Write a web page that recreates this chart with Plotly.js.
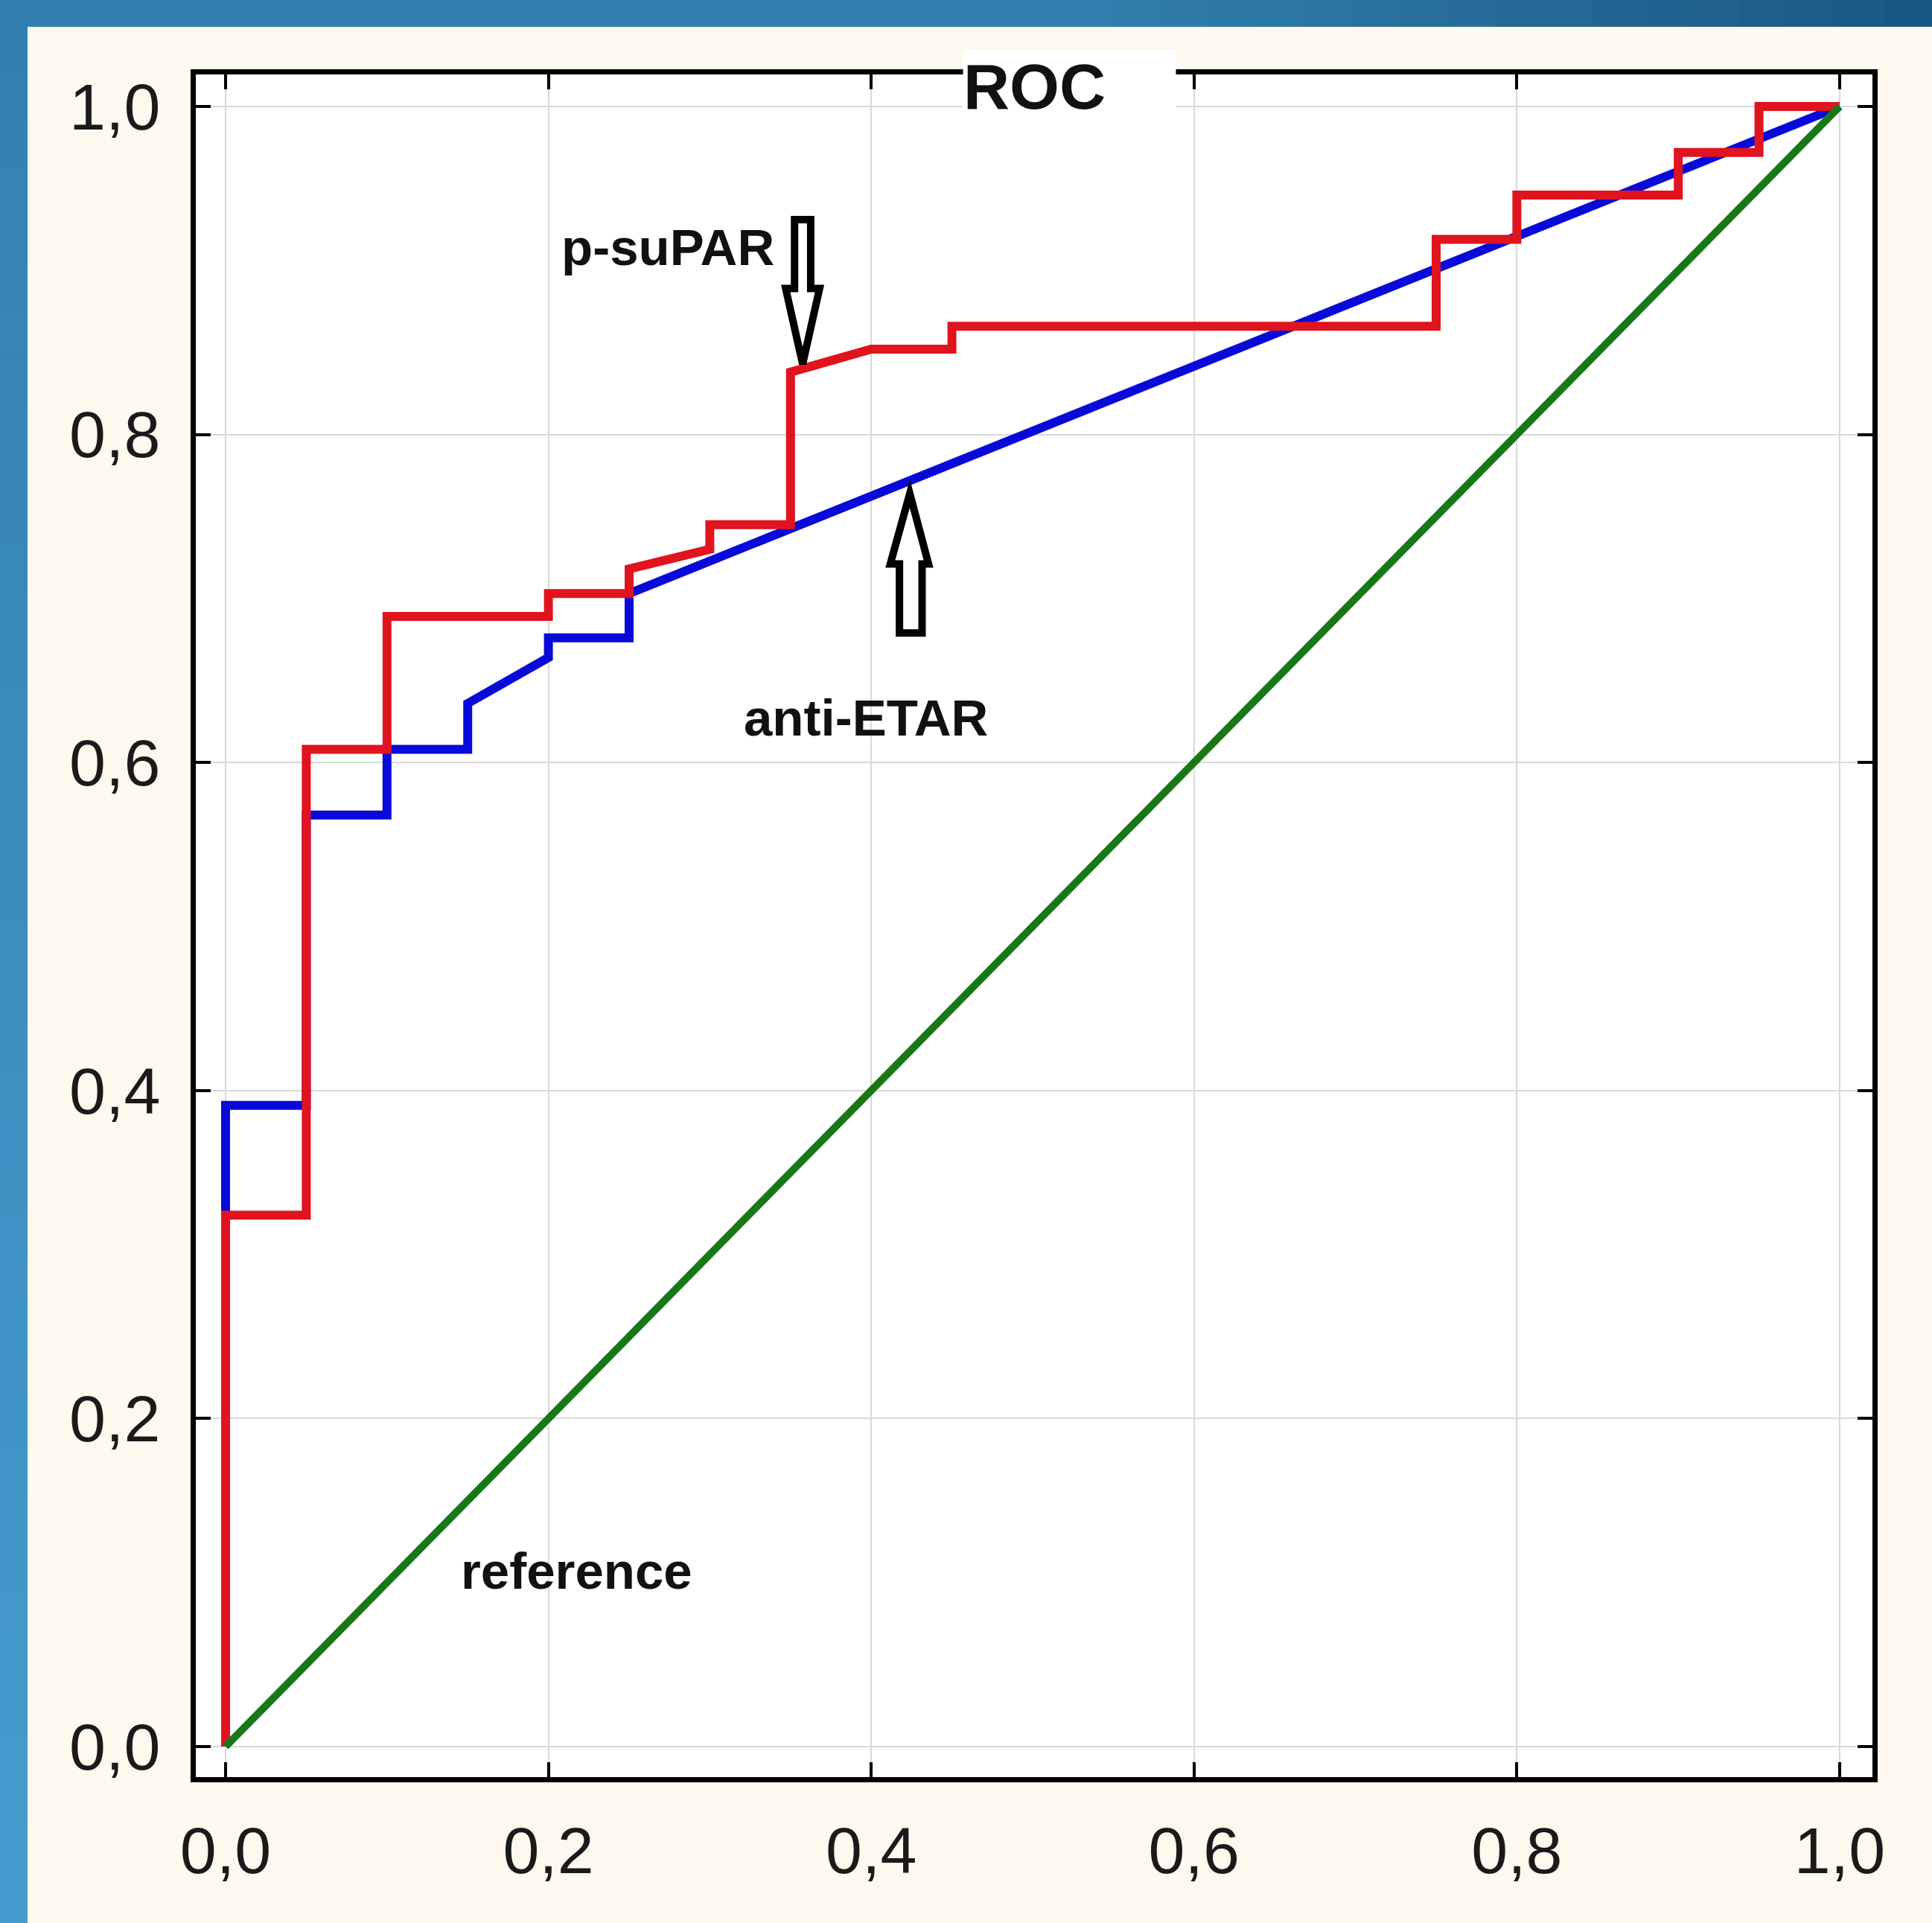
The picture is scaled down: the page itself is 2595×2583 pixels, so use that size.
<!DOCTYPE html>
<html>
<head>
<meta charset="utf-8">
<script src="https://cdn.plot.ly/plotly-3.0.1.min.js"></script>
<style>
  html, body { margin: 0; padding: 0; background: #fef9ee; }
  #chart { width: 2595px; height: 2583px; }
</style>
</head>
<body>
<div id="chart"></div>
<script>
// ---- Data ----
const tickVals = [0, 0.2, 0.4, 0.6, 0.8, 1.0];
const tickText = ["0,0", "0,2", "0,4", "0,6", "0,8", "1,0"];

// p-suPAR ROC curve (red)
const psuparX = [0, 0, 0.05, 0.05, 0.10, 0.10, 0.20, 0.20, 0.25, 0.25, 0.30, 0.30, 0.35, 0.35, 0.40, 0.45, 0.45, 0.75, 0.75, 0.80, 0.80, 0.90, 0.90, 0.95, 0.95, 1.0];
const psuparY = [0, 0.324, 0.324, 0.608, 0.608, 0.689, 0.689, 0.703, 0.703, 0.718, 0.730, 0.745, 0.745, 0.838, 0.852, 0.852, 0.866, 0.866, 0.919, 0.919, 0.946, 0.946, 0.972, 0.972, 1.0, 1.0];

// anti-ETAR ROC curve (blue)
const antiEtarX = [0, 0, 0.05, 0.05, 0.10, 0.10, 0.15, 0.15, 0.20, 0.20, 0.25, 0.25, 1.0];
const antiEtarY = [0, 0.391, 0.391, 0.568, 0.568, 0.608, 0.608, 0.636, 0.664, 0.676, 0.676, 0.703, 1.0];

// reference diagonal (green)
const refX = [0, 1];
const refY = [0, 1];

// ---- Layout geometry ----
const W = 2595, H = 2583;
const M = { l: 263, r: 80, t: 100, b: 196 };
const pw = W - M.l - M.r, ph = H - M.t - M.b;
const px = p => (p - M.l) / pw;          // page pixel -> paper x
const py = p => (H - M.b - p) / ph;      // page pixel -> paper y

const traces = [
  { x: antiEtarX, y: antiEtarY, mode: 'lines', name: 'anti-ETAR',
    line: { color: '#0a0ad8', width: 12, shape: 'linear' }, hoverinfo: 'skip' },
  { x: psuparX, y: psuparY, mode: 'lines', name: 'p-suPAR',
    line: { color: '#e0141e', width: 12, shape: 'linear' }, hoverinfo: 'skip' },
  { x: refX, y: refY, mode: 'lines', name: 'reference',
    line: { color: '#187818', width: 10 }, hoverinfo: 'skip' }
];

// decorative blue gradient frame (built as thin bands)
const shapes = [];
function mix(a, b, t) {
  return 'rgb(' + a.map((v, i) => Math.round(v + (b[i] - v) * t)).join(',') + ')';
}
const N = 40;
const topL = [51, 128, 176], topM = [50, 128, 175], topR = [26, 86, 130];
for (let i = 0; i < N; i++) {
  const t0 = i / N, t1 = (i + 1) / N;
  const tc = (t0 + t1) / 2;
  const col = tc < 0.55 ? mix(topL, topM, tc / 0.55) : mix(topM, topR, (tc - 0.55) / 0.45);
  shapes.push({ type: 'rect', xref: 'paper', yref: 'paper', layer: 'below',
    x0: px(t0 * W - 1), x1: px(t1 * W + 1), y0: py(36), y1: py(-2),
    fillcolor: col, line: { width: 0 } });
}
const leftT = [51, 128, 176], leftB = [70, 156, 206];
for (let i = 0; i < N; i++) {
  const t0 = i / N, t1 = (i + 1) / N;
  shapes.push({ type: 'rect', xref: 'paper', yref: 'paper', layer: 'below',
    x0: px(-2), x1: px(37), y0: py(36 + t1 * (H - 36) + 1), y1: py(36 + t0 * (H - 36) - 1),
    fillcolor: mix(leftT, leftB, (t0 + t1) / 2), line: { width: 0 } });
}

// hollow arrows (data coordinates)
shapes.push({ type: 'path', xref: 'x', yref: 'y', layer: 'above',
  path: 'M0.3525,0.931 L0.3625,0.931 L0.3625,0.889 L0.368,0.889 L0.3575,0.843 L0.347,0.889 L0.3525,0.889 Z',
  fillcolor: '#ffffff', line: { color: '#000000', width: 10 } });
shapes.push({ type: 'path', xref: 'x', yref: 'y', layer: 'above',
  path: 'M0.4175,0.679 L0.4315,0.679 L0.4315,0.721 L0.4355,0.721 L0.4239,0.764 L0.4118,0.721 L0.4175,0.721 Z',
  fillcolor: '#ffffff', line: { color: '#000000', width: 10 } });

const labelFont = { family: 'Liberation Sans, Arial, sans-serif', size: 69, color: '#111111' };

const annotations = [
  { text: '<b>ROC</b>', xref: 'paper', yref: 'paper', x: px(1293), y: py(116),
    xanchor: 'left', yanchor: 'middle', align: 'left', showarrow: false,
    font: { family: 'Liberation Sans, Arial, sans-serif', size: 86, color: '#111111' },
    bgcolor: '#ffffff', width: 285, height: 96, borderpad: 0 },
  { text: '<b>p-suPAR</b>', xref: 'x', yref: 'y', x: 0.274, y: 0.914, showarrow: false, font: labelFont },
  { text: '<b>anti-ETAR</b>', xref: 'x', yref: 'y', x: 0.3967, y: 0.627, showarrow: false, font: labelFont },
  { text: '<b>reference</b>', xref: 'x', yref: 'y', x: 0.2177, y: 0.107, showarrow: false, font: labelFont }
];

const axisCommon = {
  tickvals: tickVals, ticktext: tickText,
  ticks: 'inside', ticklen: 20, tickwidth: 4, tickcolor: '#000000',
  showline: true, linecolor: '#000000', linewidth: 7, mirror: 'ticks',
  showgrid: true, gridcolor: '#d9d9d9', gridwidth: 2,
  zeroline: false,
  tickfont: { family: 'Liberation Sans, Arial, sans-serif', size: 88, color: '#1a1a1a' },
  fixedrange: true
};

const layout = {
  width: W, height: H,
  margin: M,
  paper_bgcolor: '#fef9ee',
  plot_bgcolor: '#ffffff',
  showlegend: false,
  separators: ', ',
  xaxis: Object.assign({}, axisCommon, { range: [-0.01845, 1.0203], ticklabelstandoff: 16 }),
  yaxis: Object.assign({}, axisCommon, { range: [-0.0186, 1.0195], ticklabelstandoff: 23 }),
  shapes: shapes,
  annotations: annotations
};

Plotly.newPlot('chart', traces, layout, { staticPlot: true, displayModeBar: false });
</script>
</body>
</html>
